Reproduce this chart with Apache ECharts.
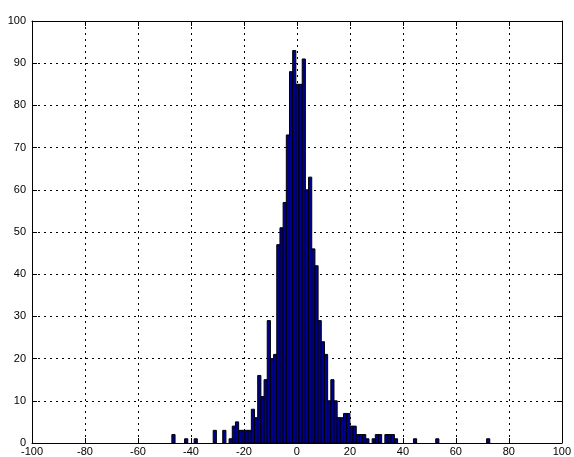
<!DOCTYPE html>
<html>
<head>
<meta charset="utf-8">
<script src="https://cdn.jsdelivr.net/npm/echarts@6/dist/echarts.min.js"></script>
<style>
html,body{margin:0;padding:0;background:#fff;}
#chart{width:574px;height:457px;}
</style>
</head>
<body>
<div id="chart"></div>
<script>
// Histogram data: 100 bins starting at binStart, each binWidth wide
const binStart = -47.2;
const binWidth = 1.2;
const counts = [
  2,0,0,0,1,0,0,1,0,0,
  0,0,0,3,0,0,3,0,1,4,
  5,3,3,3,3,8,6,16,11,15,
  29,20,21,47,51,57,73,88,93,85,
  85,91,60,63,46,42,29,24,21,10,
  15,10,6,6,7,7,4,4,2,2,
  2,1,0,1,2,2,0,2,2,2,
  1,0,0,0,0,0,1,0,0,0,
  0,0,0,1,0,0,0,0,0,0,
  0,0,0,0,0,0,0,0,0,1
];
const xTicks = [-100,-80,-60,-40,-20,0,20,40,60,80,100];
const yTicks = [0,10,20,30,40,50,60,70,80,90,100];

const bins = counts.map((c, i) => [binStart + i * binWidth, binStart + (i + 1) * binWidth, c]);

const chart = echarts.init(document.getElementById('chart'), null, {renderer: 'canvas'});
const font = {fontFamily: 'Liberation Sans, Arial, sans-serif', fontSize: 11, color: '#000'};
chart.setOption({
  backgroundColor: '#fff',
  animation: false,
  grid: {left: 32, right: 5, top: 21, bottom: 12, containLabel: false},
  xAxis: [{
    type: 'value', min: xTicks[0], max: xTicks[xTicks.length - 1], interval: 20,
    axisLine: {show: true, onZero: false, lineStyle: {color: '#000', width: 1}},
    axisTick: {show: true, inside: true, length: 5, lineStyle: {color: '#000'}},
    axisLabel: Object.assign({margin: 3, showMinLabel: true, showMaxLabel: true}, font),
    splitLine: {show: true, lineStyle: {type: [2, 4], color: '#000', width: 1}}
  }, {
    type: 'value', position: 'top', min: xTicks[0], max: xTicks[xTicks.length - 1], interval: 20,
    axisLine: {show: true, onZero: false, lineStyle: {color: '#000', width: 1}},
    axisTick: {show: true, inside: true, length: 5, lineStyle: {color: '#000'}},
    axisLabel: {show: false}, splitLine: {show: false}
  }],
  yAxis: [{
    type: 'value', min: yTicks[0], max: yTicks[yTicks.length - 1], interval: 10,
    axisLine: {show: true, onZero: false, lineStyle: {color: '#000', width: 1}},
    axisTick: {show: true, inside: true, length: 5, lineStyle: {color: '#000'}},
    axisLabel: Object.assign({margin: 6}, font),
    splitLine: {show: true, lineStyle: {type: [2, 4], color: '#000', width: 1}}
  }, {
    type: 'value', position: 'right', min: yTicks[0], max: yTicks[yTicks.length - 1], interval: 10,
    axisLine: {show: true, onZero: false, lineStyle: {color: '#000', width: 1}},
    axisTick: {show: true, inside: true, length: 5, lineStyle: {color: '#000'}},
    axisLabel: {show: false}, splitLine: {show: false}
  }],
  series: [{
    type: 'custom',
    xAxisIndex: 0, yAxisIndex: 0,
    data: bins,
    encode: {x: [0, 1], y: 2},
    renderItem: function (params, api) {
      const h = api.value(2);
      if (!h) return null;
      const p0 = api.coord([api.value(0), h]);
      const p1 = api.coord([api.value(1), 0]);
      return {
        type: 'rect',
        shape: {x: p0[0], y: p0[1], width: p1[0] - p0[0], height: p1[1] - p0[1]},
        style: {fill: '#00008f', stroke: '#000', lineWidth: 1}
      };
    }
  }]
});
</script>
</body>
</html>
